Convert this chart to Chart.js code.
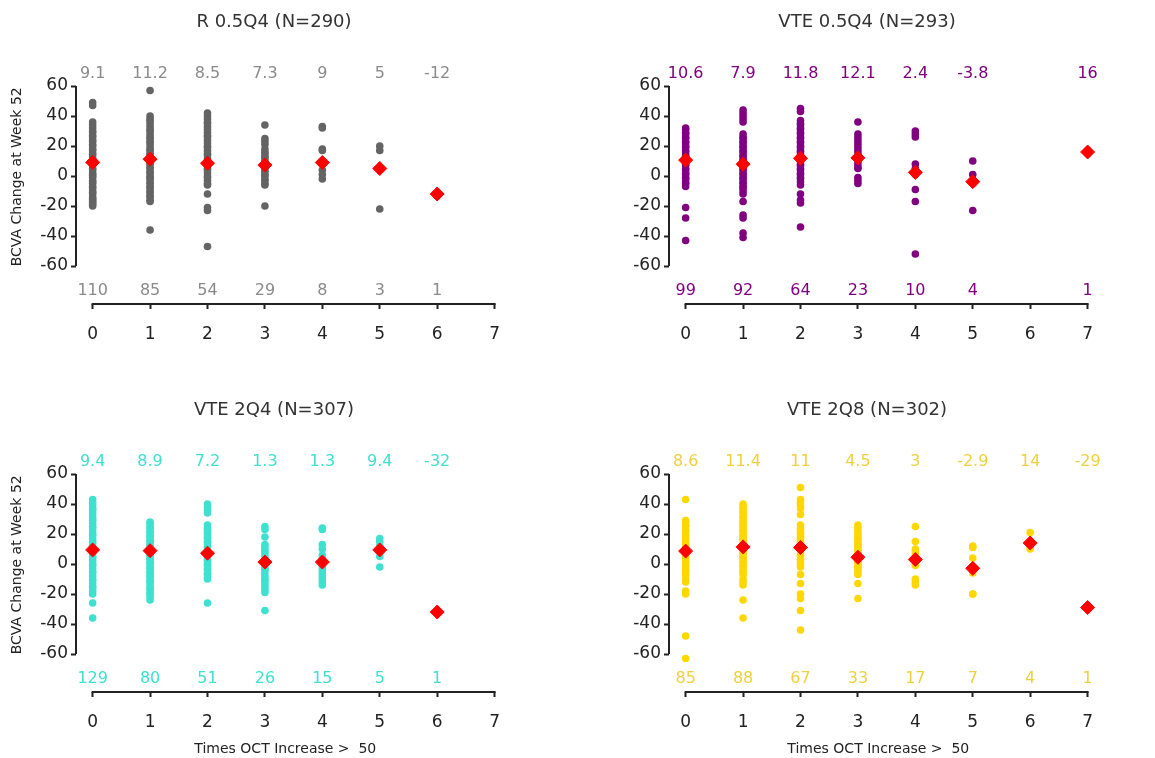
<!DOCTYPE html>
<html>
<head>
<meta charset="utf-8">
<script src="https://cdn.jsdelivr.net/npm/chart.js@4.4.1/dist/chart.umd.min.js"></script>
<style>
  body { margin: 0; background: #fff; width: 1155px; height: 758px; overflow: hidden; position: relative; }
  canvas { position: absolute; }
</style>
</head>
<body>
<canvas id="c1" width="560" height="388" style="left:0;top:0"></canvas>
<canvas id="c2" width="560" height="388" style="left:593px;top:0"></canvas>
<canvas id="c3" width="560" height="370" style="left:0;top:388px"></canvas>
<canvas id="c4" width="560" height="370" style="left:593px;top:388px"></canvas>
<script>
// Axes
const xTicks = [0, 1, 2, 3, 4, 5, 6, 7];
const yTicks = [-60, -40, -20, 0, 20, 40, 60];

// R 0.5Q4 : BCVA change per number of OCT increases
const r05q4Values = [
  [49, 47, 36, 34, 32, 30, 29, 27, 26, 24, 23, 21, 20, 18, 17, 15, 14, 12, 11, 10, 8, 7, 5, 4, 2, 1, 0, -1, -3, -4, -5, -7, -8, -10, -11, -12, -14, -15, -16, -17, -18, -19, -20],
  [57, 40, 38, 37, 35, 33, 31, 30, 28, 26, 25, 23, 22, 20, 18, 17, 15, 14, 12, 11, 9, 8, 6, 5, 3, 2, 0, -1, -2, -4, -5, -7, -8, -10, -11, -13, -14, -16, -17, -36],
  [42, 40, 38, 36, 35, 33, 31, 29, 27, 26, 24, 22, 20, 19, 17, 15, 14, 12, 10, 9, 7, 5, 4, 2, 0, -1, -3, -5, -6, -12, -21, -23, -47],
  [34, 25, 23, 21, 18, 16, 15, 13, 12, 10, 9, 7, 6, 4, 3, 1, 0, -2, -3, -5, -6, -20],
  [33, 32, 18, 17, 8, 4, 1, -2],
  [20, 17, -22],
  [-12]
];
const r05q4Means = [9.1, 11.2, 8.5, 7.3, 9, 5, -12];
const r05q4Counts = [110, 85, 54, 29, 8, 3, 1];

// VTE 0.5Q4
const vte05q4Values = [
  [32, 31, 29, 28, 26, 25, 23, 22, 20, 19, 17, 16, 14, 13, 11, 10, 8, 7, 5, 4, 2, 1, -1, -2, -4, -5, -7, -21, -28, -43],
  [44, 42, 40, 38, 36, 28, 26, 25, 23, 22, 20, 19, 17, 16, 14, 13, 11, 10, 8, 7, 5, 4, 2, 1, -1, -2, -4, -5, -7, -8, -10, -12, -17, -26, -28, -38, -41],
  [45, 43, 37, 35, 34, 32, 31, 29, 28, 26, 25, 23, 22, 20, 19, 17, 16, 14, 13, 11, 10, 8, 7, 5, 4, 2, 1, -1, -2, -4, -6, -12, -16, -18, -34],
  [36, 28, 26, 24, 22, 20, 18, 16, 14, 12, 10, 8, 6, 5, -1, -3, -5],
  [30, 28, 26, 8, 5, 2, 1, -9, -17, -52],
  [10, 1, -3, -23],
  [],
  [16]
];
const vte05q4Means = [10.6, 7.9, 11.8, 12.1, 2.4, -3.8, null, 16];
const vte05q4Counts = [99, 92, 64, 23, 10, 4, null, 1];

// VTE 2Q4
const vte2q4Values = [
  [43, 41, 39, 37, 36, 34, 32, 30, 29, 27, 25, 24, 22, 20, 19, 17, 15, 14, 12, 10, 9, 7, 5, 4, 2, 0, -1, -3, -5, -6, -8, -10, -11, -13, -15, -16, -18, -20, -26, -36],
  [28, 27, 25, 24, 22, 21, 19, 18, 16, 15, 13, 12, 10, 9, 7, 6, 4, 3, 1, 0, -2, -3, -5, -6, -8, -9, -11, -12, -14, -16, -17, -19, -20, -22, -24],
  [40, 38, 36, 34, 26, 24, 23, 21, 20, 18, 17, 15, 14, 12, 11, 9, 8, 6, 5, 3, 2, 0, -1, -3, -4, -6, -7, -9, -10, -26],
  [25, 23, 18, 13, 11, 9, 8, 6, 4, 3, 1, -1, -3, -4, -6, -8, -10, -11, -13, -15, -17, -19, -31],
  [24, 23, 13, 10, 6, 4, 2, 0, -2, -4, -6, -8, -10, -12, -14],
  [17, 15, 12, 5, -2],
  [-32]
];
const vte2q4Means = [9.4, 8.9, 7.2, 1.3, 1.3, 9.4, -32];
const vte2q4Counts = [129, 80, 51, 26, 15, 5, 1];

// VTE 2Q8
const vte2q8Values = [
  [43, 29, 28, 26, 25, 23, 22, 20, 19, 17, 16, 14, 13, 11, 10, 8, 7, 5, 4, 2, 1, -1, -2, -4, -5, -7, -10, -12, -18, -20, -48, -63],
  [40, 38, 37, 35, 34, 32, 31, 29, 28, 26, 25, 23, 22, 20, 19, 17, 16, 14, 13, 11, 10, 8, 7, 5, 4, 2, 1, -1, -2, -4, -5, -7, -10, -12, -14, -24, -36],
  [51, 43, 41, 39, 37, 33, 26, 24, 23, 21, 20, 18, 17, 15, 14, 12, 11, 9, 8, 6, 5, 3, 2, 0, -2, -7, -13, -20, -23, -31, -44],
  [26, 24, 22, 20, 19, 17, 16, 14, 13, 11, 10, 8, 7, 5, 4, 2, 1, -1, -2, -4, -5, -7, -13, -23],
  [25, 15, 10, 8, 6, 4, 2, 0, -1, -10, -12, -14],
  [12, 11, 4, -2, -6, -20, -20],
  [21, 14, 12, 10],
  [-29]
];
const vte2q8Means = [8.6, 11.4, 11, 4.5, 3, -2.9, 14, -29];
const vte2q8Counts = [85, 88, 67, 33, 17, 7, 4, 1];

const FONT = '"DejaVu Sans", Verdana, sans-serif';
Chart.defaults.font.family = FONT;

// axis lines (only over the data range) and the mean / N rows
const panelDecor = {
  id: 'panelDecor',
  afterDraw(chart, args, opts) {
    const { ctx, chartArea } = chart;
    const x = chart.scales.x, y = chart.scales.y;
    ctx.save();
    ctx.strokeStyle = '#222';
    ctx.lineWidth = 2;
    ctx.beginPath();
    ctx.moveTo(chartArea.left, y.getPixelForValue(yTicks[0]));
    ctx.lineTo(chartArea.left, y.getPixelForValue(yTicks[yTicks.length - 1]));
    ctx.stroke();
    ctx.beginPath();
    ctx.moveTo(x.getPixelForValue(xTicks[0]) - 1, chartArea.bottom);
    ctx.lineTo(x.getPixelForValue(xTicks[xTicks.length - 1]) + 1, chartArea.bottom);
    ctx.stroke();

    ctx.font = '16px ' + FONT;
    ctx.fillStyle = opts.textColor;
    ctx.textAlign = 'center';
    ctx.textBaseline = 'middle';
    const topY = y.getPixelForValue(60) - 12;
    const botY = y.getPixelForValue(-60) + 25;
    opts.means.forEach((m, i) => {
      if (m === null) return;
      const px = x.getPixelForValue(i);
      ctx.fillText(String(m), px, topY);
      ctx.fillText(String(opts.counts[i]), px, botY);
    });

    if (opts.xTitle) {
      ctx.font = '14px ' + FONT;
      ctx.fillStyle = '#222';
      const cx = (chartArea.left + x.getPixelForValue(7)) / 2;
      ctx.fillText(opts.xTitle, cx, chartArea.bottom + 57);
    }
    ctx.restore();
  }
};

function makePanel(id, title, values, means, counts, color, textColor, showY, showX) {
  const points = values.flatMap((vals, i) => vals.map(v => ({ x: i, y: v })));
  const meanPts = means.map((m, i) => (m === null ? null : { x: i, y: m })).filter(p => p);
  const canvas = document.getElementById(id);
  return new Chart(canvas, {
    type: 'scatter',
    data: {
      datasets: [
        {
          label: 'Mean',
          data: meanPts,
          pointStyle: 'rectRot',
          pointRadius: 7,
          backgroundColor: '#ff0000',
          borderColor: '#ff0000',
          borderWidth: 1,
          clip: false
        },
        {
          label: title,
          data: points,
          pointStyle: 'circle',
          pointRadius: 3.8,
          backgroundColor: color,
          borderWidth: 0,
          clip: false
        }
      ]
    },
    options: {
      responsive: false,
      animation: false,
      events: [],
      layout: { padding: { left: 0, right: 12, top: 0, bottom: 0 } },
      plugins: {
        legend: { display: false },
        tooltip: { enabled: false },
        title: {
          display: true,
          text: title,
          color: '#333',
          font: { size: 18, weight: 'normal' },
          padding: { top: 12, bottom: 16 }
        },
        panelDecor: { means: means, counts: counts, textColor: textColor, xTitle: showX ? 'Times OCT Increase >  50' : null }
      },
      scales: {
        x: {
          type: 'linear',
          min: -0.29,
          max: 7.93,
          afterBuildTicks: s => { s.ticks = xTicks.map(v => ({ value: v })); },
          afterFit: s => { s.height = canvas.height - 304; },
          border: { display: false },
          grid: { drawOnChartArea: false, drawTicks: true, tickLength: 5, tickColor: '#222', tickWidth: 2 },
          ticks: { color: '#222', font: { size: 17 }, padding: 15, maxRotation: 0 }
        },
        y: {
          type: 'linear',
          min: -85.33,
          max: 84.27,
          afterBuildTicks: s => { s.ticks = yTicks.map(v => ({ value: v })); },
          afterFit: s => { s.width = 76; },
          border: { display: false },
          grid: { drawOnChartArea: false, drawTicks: true, tickLength: 5, tickColor: '#222', tickWidth: 2 },
          ticks: { color: '#222', font: { size: 17 }, padding: 3 },
          title: {
            display: showY,
            text: 'BCVA Change at Week 52',
            color: '#222',
            font: { size: 14 },
            padding: { top: 9, bottom: 0 }
          }
        }
      }
    },
    plugins: [panelDecor]
  });
}

makePanel('c1', 'R 0.5Q4 (N=290)', r05q4Values, r05q4Means, r05q4Counts, '#646464', '#8a8a8a', true, false);
makePanel('c2', 'VTE 0.5Q4 (N=293)', vte05q4Values, vte05q4Means, vte05q4Counts, '#800080', '#800080', false, false);
makePanel('c3', 'VTE 2Q4 (N=307)', vte2q4Values, vte2q4Means, vte2q4Counts, '#40e0d0', '#40e0d0', true, true);
makePanel('c4', 'VTE 2Q8 (N=302)', vte2q8Values, vte2q8Means, vte2q8Counts, '#ffd700', '#f0d040', false, true);
</script>
</body>
</html>
